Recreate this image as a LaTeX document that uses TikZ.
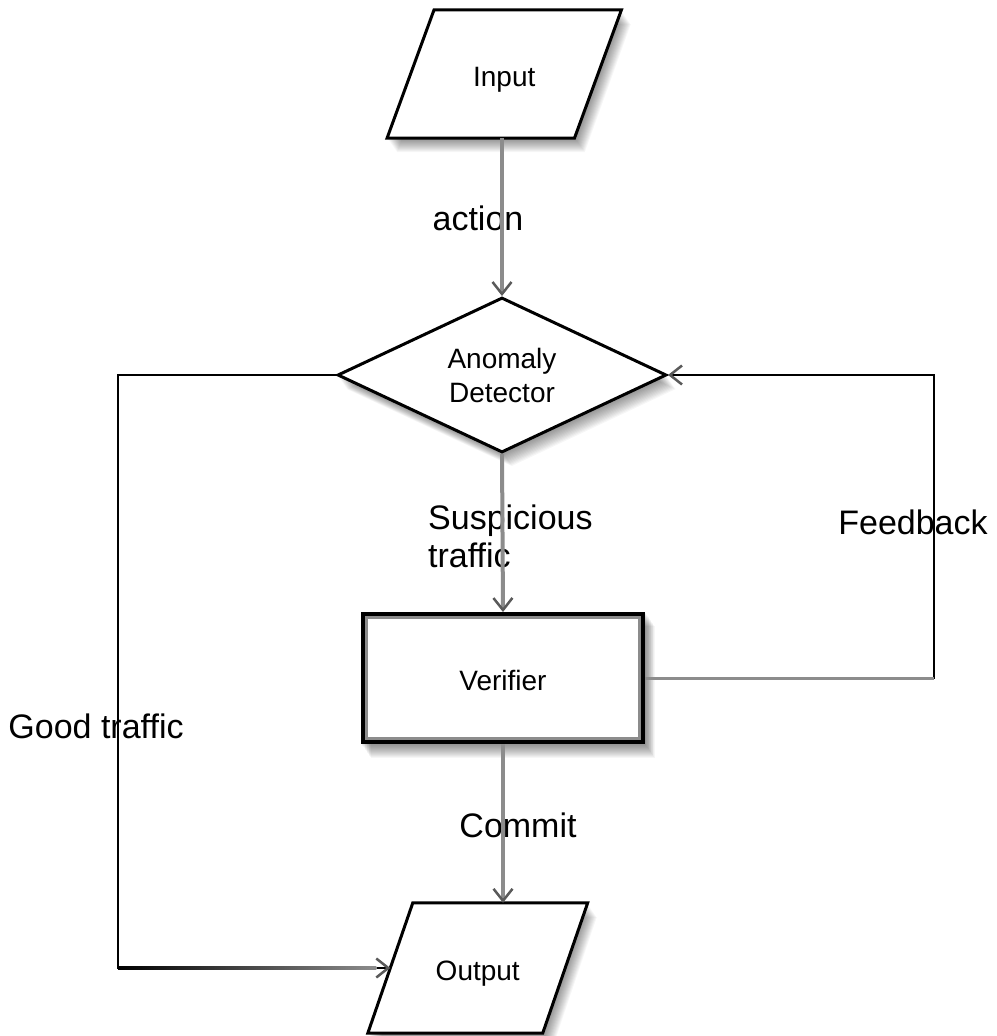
\documentclass[tikz,border=0pt]{standalone}
\usepackage{fontspec}
\setmainfont{Liberation Sans}
\usetikzlibrary{shapes.geometric,arrows.meta,backgrounds}
\definecolor{lgray}{RGB}{140,140,140}
\definecolor{dgray}{RGB}{90,90,90}
\tikzset{
  boxfont/.style={font=\fontsize{28}{35}\selectfont},
  lbl/.style={font=\fontsize{34}{38}\selectfont, inner sep=0pt, align=left},
  shapeborder/.style={draw=black, line width=3pt, fill=white, line join=miter},
  shadowlayer/.style={fill=black, opacity=0.035},
  tip/.style={-{Straight Barb[length=12pt,width=19pt,line width=2.5pt,color=dgray]}},
  varrow/.style={draw=lgray, line width=4pt, tip},
  looparrow/.style={draw=black, line width=2.5pt, tip},
  grayseg/.style={draw=lgray, line width=3pt},
}
\begin{document}
\begin{tikzpicture}[x=1pt,y=-1pt]
\useasboundingbox (0,0) rectangle (996,1036);

% text-carrying nodes
\node[boxfont, minimum width=187pt, minimum height=128pt, inner sep=0pt] (in) at (504.25,74) {\raisebox{-13pt}[0pt][0pt]{Input}};
\node[boxfont, shape=diamond, shapeborder, aspect=2.12, minimum width=329pt, minimum height=155pt, inner sep=0pt, align=center] (det) at (502,375) {Anomaly\\[-1pt]Detector};
\node[boxfont, draw=black, line width=4pt, fill=white, minimum width=280pt, minimum height=128pt, inner sep=0pt] (ver) at (503,678) {\raisebox{-12pt}[0pt][0pt]{Verifier}};
\node[boxfont, minimum width=174.5pt, minimum height=130pt, inner sep=0pt] (out) at (477.75,968) {\raisebox{-12pt}[0pt][0pt]{Output}};

\draw[draw=lgray, line width=2.5pt] ([shift={(5.5,5.5)}]ver.north west) rectangle ([shift={(-5.5,-5.5)}]ver.south east);

\begin{pgfonlayer}{background}
  \fill[white] (0,0) rectangle (996,1036);
  % soft shadows
  \foreach \s in {1,...,14} {
    \fill[shadowlayer, shift={(0.7*\s,1.0*\s)}] (434,10) -- (621,10) -- (575,138) -- (387,138) -- cycle;
    \fill[shadowlayer, shift={(0.7*\s,1.0*\s)}] (502,297) -- (666,375) -- (502,452) -- (337,375) -- cycle;
    \fill[shadowlayer, shift={(0.7*\s,1.0*\s)}] (361,612) rectangle (645,744);
    \fill[shadowlayer, shift={(0.7*\s,1.0*\s)}] (413,903) -- (587,903) -- (543,1033) -- (368,1033) -- cycle;
  }
  % parallelograms
  \draw[shapeborder] ([xshift=23.5pt]in.north west) -- ([xshift=23.5pt]in.north east) -- ([xshift=-23.5pt]in.south east) -- ([xshift=-23.5pt]in.south west) -- cycle;
  \draw[shapeborder] ([xshift=22.5pt]out.north west) -- ([xshift=22.5pt]out.north east) -- ([xshift=-22.5pt]out.south east) -- ([xshift=-22.5pt]out.south west) -- cycle;
\end{pgfonlayer}

% labels
\node[lbl] (lact) at (478,218) {action};
\node[lbl, anchor=west] (lsus) at (428,536) {Suspicious\\traffic};
\node[lbl] (lfb) at (913,522) {Feedback};
\node[lbl] (lgood) at (96,726) {Good traffic};
\node[lbl] (lcom) at (518,825) {Commit};

% helper coordinates for the loops
\coordinate (gx) at (118,0);
\coordinate (fx) at (934,0);

% main flow
\draw[varrow] (det.north |- in.south) -- (det.north);
\draw[varrow] (det.south) -- (ver.north);
\draw[varrow] (ver.south) -- (ver.south |- out.north);

% good traffic loop
\draw[looparrow] (det.west) -- (det.west -| gx) -- (gx |- out.west) -- (out.west);
\shade[left color=black, right color=lgray] ([shift={(0,-1.25)}]gx |- out.west) rectangle ([shift={(-14,1.25)}]out.west);

% feedback loop
\draw[looparrow] (ver.east) -- (ver.east -| fx) -- (fx |- det.east) -- (det.east);
\draw[grayseg] (ver.east) -- (ver.east -| fx);
\end{tikzpicture}
\end{document}
